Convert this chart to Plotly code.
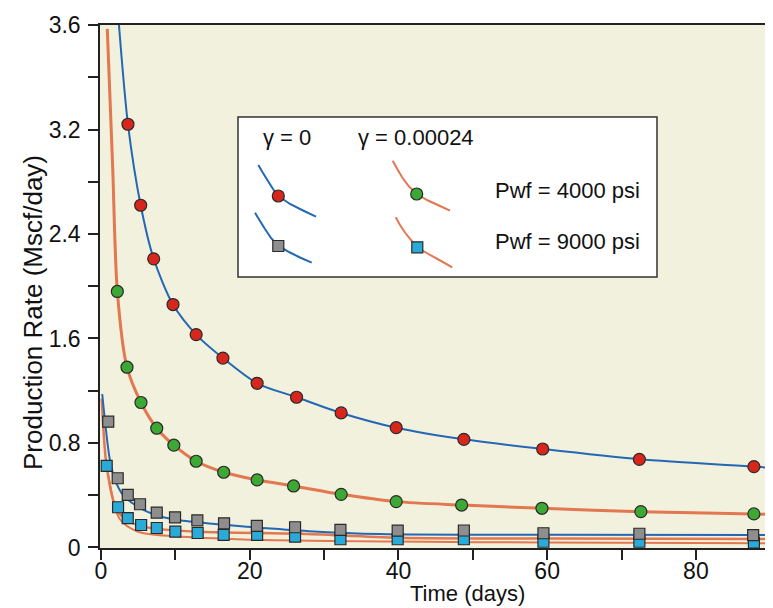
import plotly.graph_objects as go

# ---------------- data ----------------
# gamma = 0, Pwf = 4000 psi (red circles, blue line)
t_red = [3.63, 5.34, 7.09, 9.69, 12.8, 16.4, 21.0, 26.3, 32.3, 39.7, 48.8, 59.4, 72.4, 87.8]
q_red = [3.24, 2.62, 2.21, 1.86, 1.63, 1.45, 1.257, 1.15, 1.03, 0.917, 0.828, 0.754, 0.675, 0.619]

# gamma = 0.00024, Pwf = 4000 psi (green circles, orange line)
t_green = [2.2, 3.5, 5.38, 7.5, 9.8, 12.8, 16.5, 21.0, 25.9, 32.3, 39.7, 48.5, 59.3, 72.6, 87.8]
q_green = [1.96, 1.38, 1.11, 0.913, 0.783, 0.66, 0.576, 0.517, 0.471, 0.407, 0.351, 0.325, 0.300, 0.274, 0.257]

# gamma = 0, Pwf = 9000 psi (grey squares, blue line)
t_grey = [0.98, 2.25, 3.6, 5.25, 7.5, 9.96, 12.96, 16.55, 20.96, 26.1, 32.2, 39.9, 48.8, 59.5, 72.4, 87.7]
q_grey = [0.963, 0.530, 0.402, 0.331, 0.267, 0.231, 0.207, 0.185, 0.165, 0.155, 0.134, 0.129, 0.130, 0.109, 0.105, 0.095]

# gamma = 0.00024, Pwf = 9000 psi (cyan squares, orange line)
t_cyan = [0.77, 2.3, 3.6, 5.4, 7.5, 10.0, 13.0, 16.5, 21.0, 26.1, 32.2, 39.9, 48.8, 59.5, 72.4, 87.8]
q_cyan = [0.624, 0.308, 0.224, 0.172, 0.149, 0.121, 0.111, 0.096, 0.096, 0.083, 0.063, 0.063, 0.063, 0.044, 0.044, 0.037]

# fitted curves
t_fit_a = [2.42, 3.63, 5.34, 7.09, 9.69, 12.8, 16.4, 21.0, 26.3, 32.3, 39.7, 48.8, 59.4, 72.4, 87.8, 90.0]
q_fit_a = [4.0, 3.24, 2.62, 2.21, 1.86, 1.63, 1.45, 1.257, 1.15, 1.03, 0.917, 0.828, 0.754, 0.675, 0.619, 0.61]

t_fit_b = [0.85, 1.57, 2.2, 3.5, 5.38, 7.5, 9.8, 12.8, 16.5, 21.0, 25.9, 32.3, 39.7, 48.5, 59.3, 72.6, 87.8, 90.0]
q_fit_b = [3.97, 2.92, 1.96, 1.38, 1.11, 0.913, 0.783, 0.66, 0.576, 0.517, 0.471, 0.407, 0.351, 0.325, 0.300, 0.274, 0.257, 0.254]

t_fit_c = [0.17, 1.2, 1.9, 2.8, 4.6, 7.3, 10.4, 15.3, 19.6, 28.0, 37.5, 60.0, 90.0]
q_fit_c = [1.175, 0.67, 0.517, 0.415, 0.325, 0.249, 0.21, 0.18, 0.159, 0.125, 0.103, 0.097, 0.096]

t_fit_d = [0.1, 0.77, 2.1, 3.9, 6.6, 13.3, 26.8, 40.0, 60.0, 90.0]
q_fit_d = [1.14, 0.62, 0.29, 0.195, 0.15, 0.12, 0.105, 0.075, 0.068, 0.065]

t_fit_e = [1.0, 2.5, 5.0, 10.0, 20.0, 40.0, 60.0, 90.0]
q_fit_e = [0.55, 0.22, 0.12, 0.085, 0.06, 0.045, 0.038, 0.033]

x_tickvals = [0, 20, 40, 60, 80]
y_tickvals = [0, 0.8, 1.6, 2.4, 3.2, 4.0]
y_ticktext = ["0", "0.8", "1.6", "2.4", "3.2", "3.6"]

# ---------------- styling ----------------
FONT = "Liberation Sans, Arial, Helvetica, sans-serif"
BLUE = "#2467B4"
ORANGE = "#E27750"
RED = "#D9261C"
GREEN = "#3CA935"
GREY = "#8E8E8E"
CYAN = "#2AAAD9"
EDGE = "#2a2a2a"

# the page body has an 8px margin; the figure is sized so that its
# plot area lands where the reference has it (reference pixels below)
OFF = 8
W, H = 773 - OFF, 608 - OFF
REF_L, REF_R, REF_T, REF_B = 100, 771, 25, 548
ML, MT = REF_L - OFF, REF_T - OFF
MR = W - (REF_R - OFF)
MB = H - (REF_B - OFF)
PW, PH = REF_R - REF_L, REF_B - REF_T


def px(x):
    return (x - REF_L) / PW


def py(y):
    return (REF_B - y) / PH


fig = go.Figure()

line_specs = [
    (t_fit_e, q_fit_e, ORANGE, 2),
    (t_fit_d, q_fit_d, ORANGE, 2.5),
    (t_fit_b, q_fit_b, ORANGE, 3),
    (t_fit_c, q_fit_c, BLUE, 2),
    (t_fit_a, q_fit_a, BLUE, 2),
]
for tx, qy, col, w in line_specs:
    fig.add_trace(go.Scatter(x=tx, y=qy, mode="lines",
                             line=dict(color=col, width=w, shape="spline", smoothing=0.8),
                             hoverinfo="skip", showlegend=False))

marker_specs = [
    (t_cyan, q_cyan, CYAN, "square", 11),
    (t_grey, q_grey, GREY, "square", 11),
    (t_green, q_green, GREEN, "circle", 12),
    (t_red, q_red, RED, "circle", 12),
]
for tx, qy, col, sym, sz in marker_specs:
    fig.add_trace(go.Scatter(x=tx, y=qy, mode="markers",
                             marker=dict(color=col, symbol=sym, size=sz,
                                         line=dict(color=EDGE, width=1.2)),
                             showlegend=False))

shapes = []
# legend box
shapes.append(dict(type="rect", xref="paper", yref="paper",
                   x0=px(238), x1=px(657), y0=py(277), y1=py(117),
                   fillcolor="white", line=dict(color="#333333", width=1.5), layer="above"))


def poly(points, color, width):
    d = "M " + " L ".join(f"{px(a):.5f},{py(b):.5f}" for a, b in points)
    return dict(type="path", xref="paper", yref="paper", path=d,
                line=dict(color=color, width=width), layer="above")


shapes.append(poly([(258.3, 165), (263, 173), (268, 181), (273, 189), (278.3, 196), (290, 204), (303, 210.5), (316, 216.7)], BLUE, 2))
shapes.append(poly([(255, 212.7), (260, 221), (265, 229), (271, 238), (278.3, 246), (290, 252.5), (300, 257.5), (311.7, 262.7)], BLUE, 2))
shapes.append(poly([(392.7, 160.7), (397, 168.5), (402, 177), (409, 186.5), (416.7, 194), (428, 200.5), (440, 206), (450, 210.7)], ORANGE, 2))
shapes.append(poly([(395.7, 217.3), (400, 225), (405, 232.5), (411, 240), (417.3, 247.3), (430, 255), (442, 261.5), (452.3, 267.3)], ORANGE, 2))


def circ(cx, cy, r, col):
    return dict(type="circle", xref="paper", yref="paper",
                x0=px(cx - r), x1=px(cx + r), y0=py(cy + r), y1=py(cy - r),
                fillcolor=col, line=dict(color=EDGE, width=1.2), layer="above")


def sq(cx, cy, h, col):
    return dict(type="rect", xref="paper", yref="paper",
                x0=px(cx - h), x1=px(cx + h), y0=py(cy + h), y1=py(cy - h),
                fillcolor=col, line=dict(color=EDGE, width=1.2), layer="above")


shapes.append(circ(278.3, 196, 6, RED))
shapes.append(sq(278.3, 246, 5.5, GREY))
shapes.append(circ(416.7, 194, 6, GREEN))
shapes.append(sq(417.3, 247.3, 5.5, CYAN))

annotations = []
txt = dict(xref="paper", yref="paper", showarrow=False,
           font=dict(family=FONT, size=22, color="#111111"))
annotations.append(dict(txt, x=px(261), y=py(137), text="γ = 0", xanchor="left", yanchor="middle"))
annotations.append(dict(txt, x=px(356), y=py(137), text="γ = 0.00024", xanchor="left", yanchor="middle"))
annotations.append(dict(txt, x=px(493), y=py(190), text="Pwf = 4000 psi", xanchor="left", yanchor="middle"))
annotations.append(dict(txt, x=px(493), y=py(241), text="Pwf = 9000 psi", xanchor="left", yanchor="middle"))
# axis titles
annotations.append(dict(txt, x=px(467), y=py(593), text="Time (days)", xanchor="center", yanchor="middle"))
annotations.append(dict(xref="paper", yref="paper", showarrow=False, x=px(33), y=py(313),
                        text="Production Rate (Mscf/day)", textangle=-90,
                        xanchor="center", yanchor="middle",
                        font=dict(family=FONT, size=26, color="#111111")))

fig.update_layout(
    width=W, height=H,
    margin=dict(l=ML, r=MR, t=MT, b=MB, autoexpand=False),
    paper_bgcolor="white",
    plot_bgcolor="#F2F1DD",
    shapes=shapes,
    annotations=annotations,
    font=dict(family=FONT, size=23, color="#111111"),
    showlegend=False,
)
fig.update_xaxes(range=[-0.13, 90.1], tickvals=x_tickvals, showgrid=False, zeroline=False,
                 showline=True, linecolor="#222222", linewidth=1.5, mirror=True,
                 ticks="outside", ticklen=10, tickwidth=1.5, tickcolor="#222222",
                 ticklabelstandoff=-8,
                 minor=dict(ticks="outside", ticklen=10, tickwidth=1.5, tickcolor="#222222",
                            dtick=10, tick0=0, showgrid=False),
                 tickfont=dict(family=FONT, size=23, color="#111111"))
fig.update_yaxes(range=[-0.004, 4.0], tickvals=y_tickvals, ticktext=y_ticktext,
                 showgrid=False, zeroline=False,
                 showline=True, linecolor="#222222", linewidth=1.5, mirror=True,
                 ticks="outside", ticklen=10, tickwidth=1.5, tickcolor="#222222",
                 ticklabelstandoff=3,
                 minor=dict(ticks="outside", ticklen=10, tickwidth=1.5, tickcolor="#222222",
                            dtick=0.4, tick0=0, showgrid=False),
                 tickfont=dict(family=FONT, size=23, color="#111111"))

fig.write_html("out.html")
